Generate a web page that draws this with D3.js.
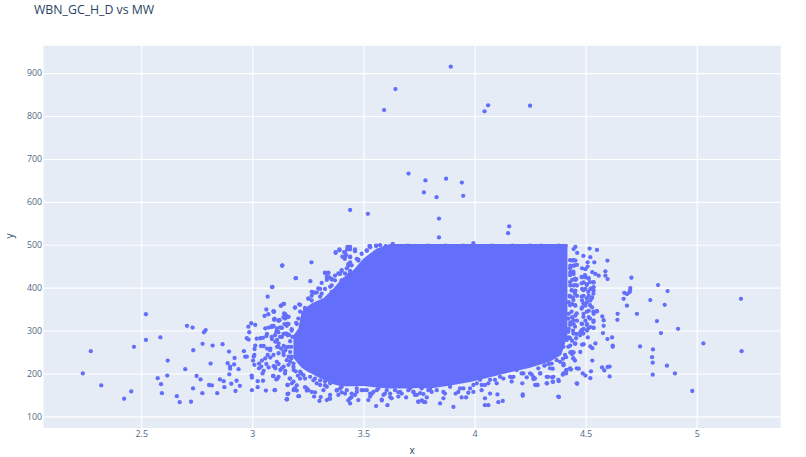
<!DOCTYPE html>
<html><head><meta charset="utf-8">
<script src="https://cdn.jsdelivr.net/npm/d3@7"></script>
<style>html,body{margin:0;padding:0;background:#fff}svg{display:block}text{font-family:"Open Sans",Verdana,sans-serif}</style>
</head><body><svg id="c" width="806" height="457"></svg>
<script>
const titleText = "WBN_GC_H_D vs MW";
const xLabel = "x", yLabel = "y";
const xTicks = [2.5,3,3.5,4,4.5,5];
const yTicks = [100,200,300,400,500,600,700,800,900];
const xDomain = [2.06,5.378];
const yDomain = [72.8,964];

// Outline of the solid, fully overplotted mass
const massX =     [3.185,3.207,3.222,3.245,3.267,3.29,3.32,3.365,3.402,3.455,3.5,3.56,3.62,3.68,3.755,3.8,3.89,3.98,4.07,4.16,4.25,4.34,4.39,4.418];
const massUpper = [289,305,344,355,363,369,375,398,421,441,468,491,502,502,502,502,502,502,502,502,502,502,502,502];
const massLower = [236,222,213,205,199,193,185,175,170,170,171,167,165,165,166,165,172,180,191,203,213,228,243,287];

const outliersTop = [[3.893,915],[3.644,863],[3.593,814],[4.061,825],[4.045,811],[4.25,824],[3.703,666],[3.779,650],[3.872,654],[3.943,645],[3.772,622],[3.829,611],[3.949,614],[3.44,581],[3.52,572],[3.84,561],[4.156,543],[4.151,527],[3.84,517],[3.995,504],[3.53,497]];

const topEdge = [[3.6,497],[3.632,502],[3.66,497],[3.7,498],[3.74,497],[3.79,498],[3.83,497],[3.87,498],[3.91,497],[3.95,498],[4.03,497],[4.08,498],[4.13,497],[4.17,498],[4.21,497],[4.25,498],[4.3,498],[4.34,497],[4.38,498],[4.41,497]];

const leftTail = [[2.237,200],[2.273,252],[2.32,172],[2.423,141],[2.455,158],[2.467,262],[2.521,338],[2.521,278],[2.586,284],[2.574,189],[2.589,175],[2.593,154],[2.619,230],[2.617,195],[2.66,147],[2.673,133],[2.698,210],[2.706,311],[2.731,307],[2.734,254],[2.733,165],[2.724,134],[2.749,194],[2.767,186],[2.775,154],[2.776,269],[2.782,296],[2.79,301],[2.812,223],[2.821,265],[2.805,173],[2.818,172],[2.842,154],[2.866,268],[2.854,186],[2.871,182],[2.874,168],[2.895,251],[2.889,224],[2.896,198],[2.9,216],[2.9,211],[2.92,236],[2.918,221],[2.938,210],[2.905,176],[2.924,159],[2.929,183],[2.944,171],[2.962,252],[2.968,239],[2.975,239],[2.982,309],[2.986,296],[2.995,317],[3.013,313],[2.975,282],[2.983,279],[2.997,195],[2.998,190],[2.998,161],[3.024,182],[3.024,168],[3.048,183],[3.061,160],[3.1,161],[3.135,452],[3.196,422],[3.09,402],[3.069,379],[3.063,349],[3.072,338],[3.055,334],[3.096,344],[3.1,327],[3.121,324],[3.128,358],[3.142,362],[3.192,354],[3.148,338],[3.153,334],[3.144,330],[3.163,332],[3.211,361]];

const leftCluster = [[3.013,265],[3.01,257],[3.009,243],[3.006,239],[3.003,230],[3.009,220],[3.03,212],[3.04,216],[3.046,200],[3.051,206],[3.03,223],[3.043,230],[3.058,235],[3.069,243],[3.081,237],[3.063,222],[3.073,214],[3.096,217],[3.103,212],[3.093,194],[3.108,186],[3.118,192],[3.039,264],[3.051,264],[3.066,258],[3.081,258],[3.058,305],[3.073,307],[3.093,310],[3.088,280],[3.066,292],[3.063,287],[3.111,278],[3.108,297],[3.126,307],[3.133,306],[3.103,274],[3.118,270],[3.133,285],[3.148,293],[3.159,289],[3.163,315],[3.144,315],[3.163,262],[3.111,262],[3.129,258],[3.141,264],[3.148,254],[3.156,261],[3.118,247],[3.141,243],[3.163,239],[3.118,222],[3.141,216],[3.163,220],[3.126,208],[3.148,206],[3.186,208],[3.178,177],[3.168,188],[3.159,173],[3.186,161],[3.2,160],[3.21,147],[3.16,152],[3.156,140],[3.02,281],[3.036,282],[3.048,283],[3.17,250],[3.175,262],[3.17,275],[3.18,285],[3.165,290],[3.175,235],[3.17,228],[3.185,215],[3.195,205],[3.205,195],[3.215,188],[3.22,200]];

const upperFringe = [[3.134,451],[3.266,459],[3.195,422],[3.261,415],[3.089,401],[3.375,481],[3.392,487],[3.417,482],[3.427,489],[3.44,489],[3.462,485],[3.422,476],[3.416,467],[3.44,471],[3.44,459],[3.432,451],[3.44,439],[3.402,439],[3.395,432],[3.372,428],[3.327,434],[3.342,434],[3.347,424],[3.357,420],[3.335,418],[3.312,411],[3.357,405],[3.365,391],[3.327,397],[3.305,397],[3.29,389],[3.275,389],[3.267,381],[3.252,374],[3.267,370],[3.237,353],[3.215,360],[3.192,353],[3.14,362],[3.129,358],[3.098,344],[3.147,336],[3.14,331],[3.155,331],[3.098,325],[3.117,323],[3.155,311],[3.095,311],[3.117,296],[3.14,292],[3.177,300],[3.2,315],[3.087,308],[3.47,467],[3.477,463],[3.515,486],[3.53,494],[3.557,498],[3.095,345],[3.099,327],[3.122,324],[3.143,340],[3.162,332],[3.147,328],[3.158,316],[3.125,307],[3.11,305],[3.087,310],[3.11,297],[3.155,293],[3.177,303],[3.197,318],[3.125,285],[3.102,289],[3.087,285],[3.207,328],[3.215,344],[3.237,348],[3.252,375],[3.267,390],[3.282,388],[3.297,398],[3.312,386],[3.305,379],[3.357,390],[3.365,379],[3.35,402],[3.327,435],[3.342,435],[3.335,425],[3.357,419],[3.372,417],[3.387,433],[3.402,441],[3.402,417],[3.432,455],[3.425,445],[3.417,433],[3.44,437],[3.432,429],[3.447,452],[3.375,483],[3.392,489],[3.428,495],[3.44,495],[3.413,483],[3.417,472],[3.405,472],[3.44,472],[3.492,479],[3.477,465],[3.462,489],[3.515,487],[3.527,497],[3.557,497],[3.575,499]];

const lowerFringe = [[3.102,161],[3.095,194],[3.113,188],[3.158,173],[3.162,153],[3.155,140],[3.192,165],[3.207,147],[3.17,188],[3.185,181],[3.237,188],[3.245,165],[3.252,161],[3.267,157],[3.278,146],[3.302,136],[3.29,177],[3.305,173],[3.32,161],[3.35,150],[3.335,138],[3.347,142],[3.372,181],[3.395,165],[3.417,153],[3.44,142],[3.44,130],[3.477,138],[3.522,138],[3.53,153],[3.56,161],[3.582,139],[3.557,124],[3.608,126],[3.627,142],[3.657,146],[3.692,144],[3.747,134],[3.417,188],[3.47,165],[3.5,161],[3.597,153],[3.605,161],[3.665,157],[3.71,165],[3.74,150],[3.117,262],[3.14,250],[3.095,243],[3.11,227],[3.132,212],[3.155,231],[3.177,239],[3.147,200],[3.102,216],[3.08,254],[3.185,223],[3.215,204],[3.275,184],[3.335,169],[3.387,150],[3.462,150],[3.53,146],[3.155,139],[3.158,152],[3.188,164],[3.2,172],[3.237,168],[3.245,160],[3.282,156],[3.308,145],[3.35,141],[3.327,172],[3.38,160],[3.402,156],[3.432,137],[3.447,145],[3.537,152],[3.583,137],[3.62,145],[3.657,156],[3.778,133],[3.763,137],[3.77,152],[3.8,164],[3.23,196],[3.26,192],[3.282,188],[3.305,184],[3.327,181],[3.35,177],[3.38,161],[3.402,169],[3.425,161],[3.447,153],[3.47,157],[3.492,161],[3.515,161],[3.545,157],[3.567,165],[3.59,150],[3.62,153],[3.642,161],[3.672,153],[3.702,161],[3.725,157]];

const lowerMid = [[3.732,150],[3.755,154],[3.785,144],[3.747,134],[3.77,134],[3.807,157],[3.845,130],[3.86,142],[3.867,153],[3.905,122],[3.915,153],[3.942,144],[3.962,144],[3.935,165],[3.972,155],[3.995,157],[4.032,161],[4.047,142],[4.047,126],[4.062,126],[4.07,153],[4.103,151],[4.107,133],[4.127,136],[3.995,173],[4.047,173],[4.1,177],[4.167,181],[4.215,177],[4.217,151],[4.28,173],[4.325,177],[4.352,181],[4.377,185],[4.377,146],[4.46,177],[4.272,188],[4.325,192],[4.355,192],[4.4,200],[4.415,208],[4.46,212],[4.43,212],[4.34,212],[4.37,231],[4.4,223],[4.445,235],[4.295,200],[4.22,200],[4.19,208],[4.16,192],[4.115,192],[4.07,185],[4.025,185],[4.217,148],[4.168,191],[4.235,191],[4.265,187],[3.725,157],[3.762,165],[3.792,161],[3.83,161],[3.86,157],[3.89,169],[3.927,157],[3.95,165],[3.98,165],[4.01,177],[4.032,173],[4.062,177],[4.092,185],[4.13,188],[4.175,192],[4.212,200],[4.25,200],[4.287,212],[4.317,219],[4.347,223]];

const rightBand = [[4.454,495],[4.446,490],[4.462,481],[4.518,491],[4.551,488],[4.521,471],[4.49,474],[4.598,463],[4.509,459],[4.539,459],[4.446,464],[4.439,463],[4.454,463],[4.431,451],[4.446,451],[4.461,453],[4.484,445],[4.499,443],[4.509,449],[4.53,436],[4.544,432],[4.559,428],[4.589,438],[4.589,428],[4.599,420],[4.431,436],[4.446,432],[4.458,420],[4.439,418],[4.454,418],[4.446,405],[4.431,405],[4.461,405],[4.439,393],[4.454,393],[4.428,381],[4.443,377],[4.461,381],[4.424,366],[4.439,362],[4.454,358],[4.484,424],[4.499,424],[4.514,422],[4.536,412],[4.491,412],[4.506,408],[4.536,401],[4.484,397],[4.499,397],[4.521,397],[4.536,393],[4.491,381],[4.514,381],[4.529,377],[4.484,370],[4.506,366],[4.521,370],[4.499,358],[4.529,354],[4.484,354],[4.551,345],[4.514,346],[4.536,339],[4.491,339],[4.514,331],[4.536,323],[4.499,323],[4.484,315],[4.506,315],[4.536,306],[4.521,308],[4.491,304],[4.476,296],[4.506,300],[4.484,300],[4.424,339],[4.439,331],[4.454,335],[4.431,319],[4.446,315],[4.461,323],[4.424,304],[4.443,300],[4.458,292],[4.424,284],[4.439,276],[4.454,269],[4.431,265],[4.457,282],[4.51,284],[4.484,267],[4.491,268],[4.544,270],[4.521,263],[4.53,259],[4.476,250],[4.446,249],[4.431,249],[4.439,245],[4.43,464],[4.445,464],[4.452,452],[4.43,445],[4.445,437],[4.43,429],[4.452,421],[4.43,413],[4.452,406],[4.437,394],[4.452,386],[4.43,379],[4.445,371],[4.43,359],[4.452,359],[4.437,344],[4.46,340],[4.422,328],[4.445,324],[4.43,313],[4.452,309],[4.422,297],[4.445,293],[4.43,282],[4.452,270],[4.422,262],[4.437,250],[4.415,278],[4.4,262],[4.407,243],[4.4,219],[4.385,227],[4.445,235],[4.452,230],[4.482,425],[4.497,429],[4.512,421],[4.52,413],[4.535,413],[4.482,410],[4.505,406],[4.527,398],[4.49,394],[4.512,390],[4.535,386],[4.482,379],[4.505,375],[4.527,375],[4.49,363],[4.52,359],[4.482,351],[4.505,344],[4.535,344],[4.49,332],[4.52,328],[4.535,320],[4.482,316],[4.505,313],[4.482,301],[4.512,305],[4.49,293],[4.475,289],[4.535,307],[4.55,345]];

const rightLower = [[4.575,333],[4.581,324],[4.581,311],[4.578,294],[4.598,280],[4.619,284],[4.622,265],[4.622,262],[4.53,230],[4.574,214],[4.584,207],[4.599,215],[4.608,216],[4.608,193],[4.524,205],[4.469,211],[4.487,200],[4.499,195],[4.521,189],[4.462,176],[4.434,209],[4.412,207],[4.412,200],[4.397,197],[4.401,220],[4.412,238],[4.398,234],[4.379,182],[4.38,145],[4.353,180],[4.326,177],[4.331,192],[4.349,191],[4.352,211],[4.334,222],[4.314,218],[4.296,200],[4.284,173],[4.273,173],[4.266,191],[4.258,197]];

const rightTail = [[4.706,423],[4.701,399],[4.7,393],[4.674,388],[4.686,385],[4.697,389],[4.671,374],[4.686,358],[4.644,339],[4.643,325],[4.731,339],[4.745,263],[4.791,371],[4.826,406],[4.869,392],[4.856,360],[4.821,322],[4.839,294],[4.916,304],[4.803,256],[4.799,238],[4.802,225],[4.866,218],[4.802,197],[4.902,200],[4.98,159],[5.03,270],[5.199,374],[5.202,252]];

const markColor = "#636efa", inkColor = "#2a3f5f", tickColor = "#506784";
const plot = {l:43.5, r:780.7, t:45.7, b:428};

const svg = d3.select("#c");
const x = d3.scaleLinear().domain(xDomain).range([plot.l, plot.r]);
const y = d3.scaleLinear().domain(yDomain).range([plot.b, plot.t]);

svg.append("rect").attr("x",plot.l).attr("y",plot.t)
  .attr("width",plot.r-plot.l).attr("height",plot.b-plot.t).attr("fill","#e5ecf6");

const xAxis = d3.axisBottom(x).tickValues(xTicks).tickFormat(d3.format("~g")).tickSize(plot.b-plot.t).tickPadding(3);
const gx = svg.append("g").attr("transform",`translate(0,${plot.t})`).call(xAxis);
const yAxis = d3.axisLeft(y).tickValues(yTicks).tickFormat(d3.format("d")).tickSize(plot.r-plot.l).tickPadding(1.5);
const gy = svg.append("g").attr("transform",`translate(${plot.r},0)`).call(yAxis);
[gx,gy].forEach(g=>{
  g.select(".domain").remove();
  g.selectAll("line").attr("stroke","#fff").attr("stroke-width",1.1);
  g.selectAll("text").attr("fill",tickColor).style("font-size","8.8px");
});

const massData = massX.map((d,i)=>({x:d,u:massUpper[i],l:massLower[i]}));
svg.append("path").datum(massData).attr("fill",markColor)
  .attr("d",d3.area().x(d=>x(d.x)).y0(d=>y(d.l)).y1(d=>y(d.u)));

const points = [].concat(outliersTop,topEdge,leftTail,leftCluster,upperFringe,lowerFringe,lowerMid,rightBand,rightLower,rightTail);
svg.append("g").selectAll("circle").data(points).join("circle")
  .attr("cx",d=>x(d[0])).attr("cy",d=>y(d[1])).attr("r",2.15).attr("fill",markColor);

svg.append("text").attr("x",34).attr("y",13.5).attr("fill",inkColor).style("font-size","12.3px").text(titleText);
svg.append("text").attr("x",412).attr("y",454).attr("text-anchor","middle").attr("fill",inkColor).style("font-size","10px").text(xLabel);
svg.append("text").attr("transform","translate(13,236) rotate(-90)").attr("text-anchor","middle").attr("fill",inkColor).style("font-size","10px").text(yLabel);
</script></body></html>
